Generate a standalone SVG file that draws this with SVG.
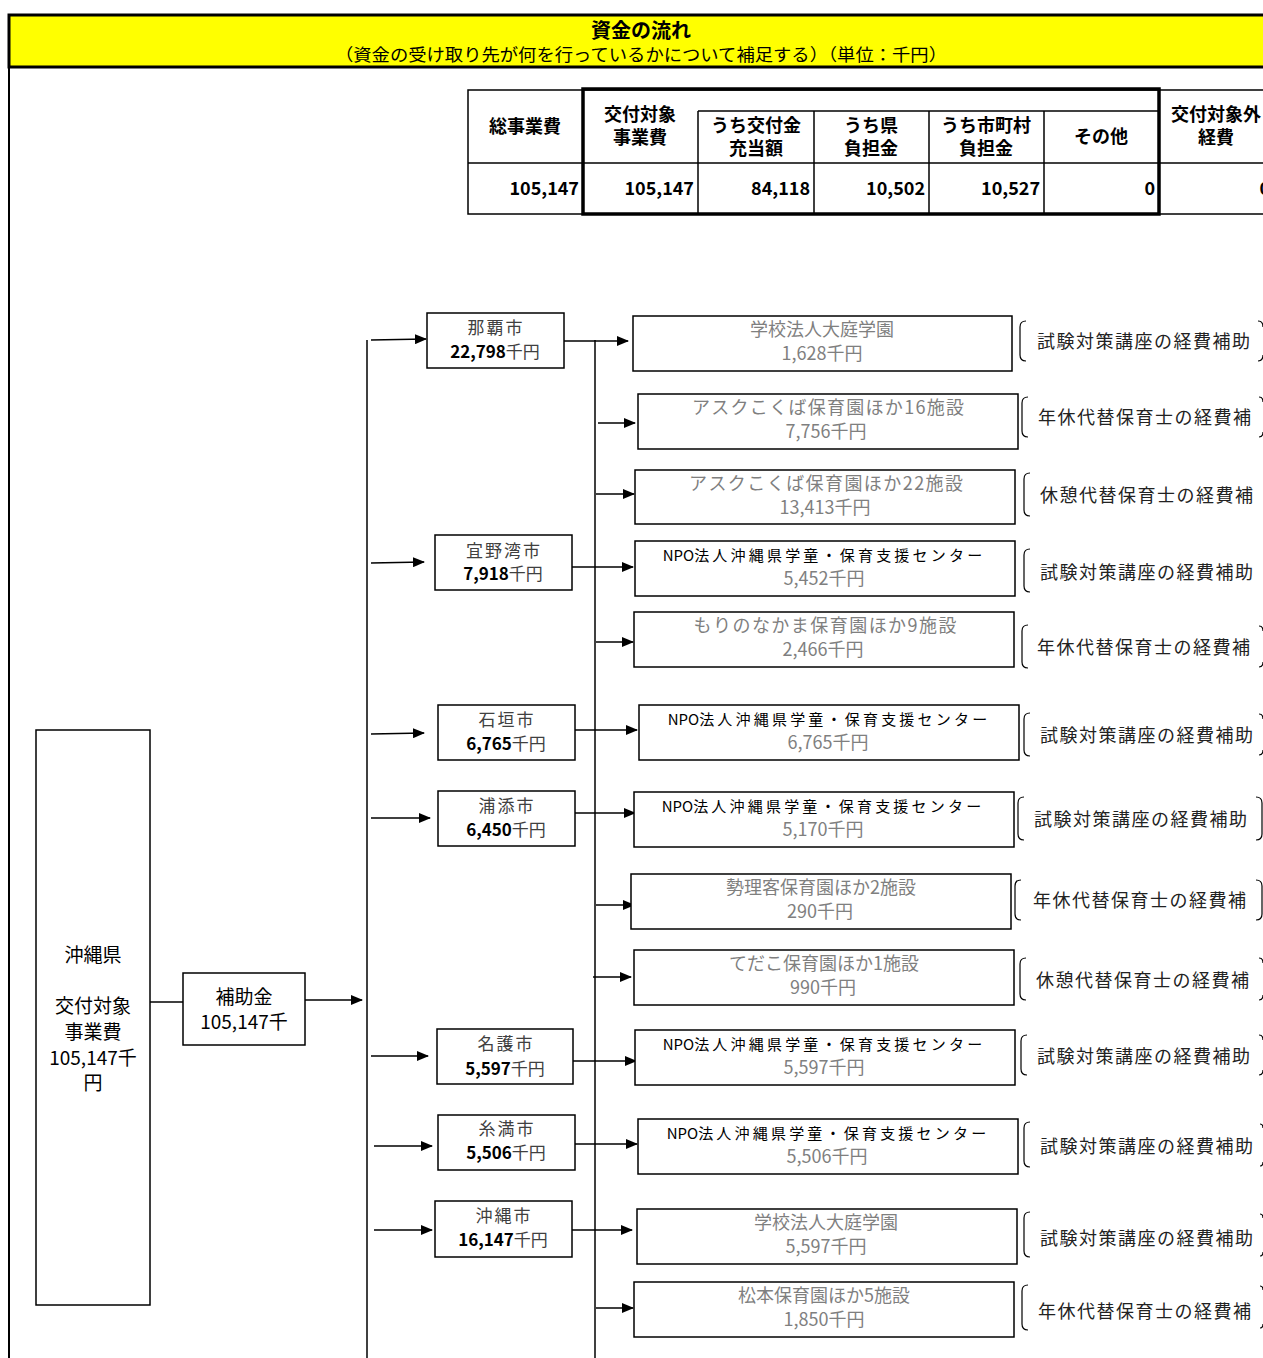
<svg xmlns="http://www.w3.org/2000/svg" width="1263" height="1358" viewBox="0 0 1263 1358">
<defs>
<marker id="ah" markerUnits="userSpaceOnUse" markerWidth="12" markerHeight="10" refX="11" refY="5" orient="auto"><path d="M0,0 L12,5 L0,10 z" fill="#000"/></marker>
<style>
text{font-family:"Noto Sans CJK JP","Liberation Sans",sans-serif;}
.box{fill:#fff;stroke:#000;stroke-width:1.5;}
.ln{stroke:#000;stroke-width:1.5;fill:none;}
.ar{stroke:#000;stroke-width:1.5;fill:none;marker-end:url(#ah);}
.th{font-size:18px;font-weight:bold;text-anchor:middle;fill:#000;}
.tv{font-size:18px;font-weight:bold;text-anchor:end;fill:#000;}
.cn{font-size:17px;text-anchor:middle;fill:#404040;letter-spacing:2px;}
.cv{font-size:17px;text-anchor:middle;fill:#000;}
.rn{font-size:18px;text-anchor:middle;fill:#7f7f7f;}
.npo{font-size:15px;text-anchor:middle;fill:#000;letter-spacing:3.2px;}
.br{font-size:18px;fill:#222;}
.bk{stroke:#000;stroke-width:1.2;fill:none;}
.lt{font-size:19px;text-anchor:middle;fill:#000;}
</style>
</defs>

<g id="header">
<rect x="9" y="15" width="1262" height="52" fill="#ffff00" stroke="#000" stroke-width="3"/>
<text x="641" y="38" font-size="20" font-weight="bold" text-anchor="middle">資金の流れ</text>
<text x="641" y="61" font-size="17" text-anchor="middle" textLength="612" lengthAdjust="spacingAndGlyphs">（資金の受け取り先が何を行っているかについて補足する）（単位：千円）</text>
<line x1="9" y1="67" x2="9" y2="1358" stroke="#000" stroke-width="2"/>
</g>

<g id="table">
<rect x="468" y="90" width="800" height="124" fill="#fff" stroke="#000" stroke-width="1.5"/>
<line class="ln" x1="468" y1="163" x2="1263" y2="163"/>
<line class="ln" x1="698" y1="111" x2="1159" y2="111"/>
<line class="ln" x1="698" y1="111" x2="698" y2="214"/>
<line class="ln" x1="814" y1="111" x2="814" y2="214"/>
<line class="ln" x1="929" y1="111" x2="929" y2="214"/>
<line class="ln" x1="1044" y1="111" x2="1044" y2="214"/>
<rect x="583" y="89" width="576" height="125" fill="none" stroke="#000" stroke-width="3.5"/>
<text class="th" x="525" y="133">総事業費</text>
<text class="th" x="640" y="121">交付対象</text>
<text class="th" x="640" y="144">事業費</text>
<text class="th" x="756" y="132">うち交付金</text>
<text class="th" x="756" y="155">充当額</text>
<text class="th" x="871" y="132">うち県</text>
<text class="th" x="871" y="155">負担金</text>
<text class="th" x="986" y="132">うち市町村</text>
<text class="th" x="986" y="155">負担金</text>
<text class="th" x="1101" y="143">その他</text>
<text class="th" x="1216" y="121">交付対象外</text>
<text class="th" x="1216" y="144">経費</text>
<text class="tv" x="579" y="195">105,147</text>
<text class="tv" x="694" y="195">105,147</text>
<text class="tv" x="810" y="195">84,118</text>
<text class="tv" x="925" y="195">10,502</text>
<text class="tv" x="1040" y="195">10,527</text>
<text class="tv" x="1155" y="195">0</text>
<text class="tv" x="1270" y="195">0</text>
</g>

<g id="connectors">
<line class="ln" x1="367" y1="340" x2="367" y2="1358"/>
<line class="ln" x1="595" y1="340" x2="595" y2="1358"/>
<line class="ln" x1="150" y1="1002" x2="183" y2="1002"/>
<line class="ar" x1="305" y1="1000" x2="362" y2="1000"/>
<line class="ar" x1="371" y1="340" x2="426" y2="339"/>
<line class="ar" x1="371" y1="563" x2="424" y2="562"/>
<line class="ar" x1="371" y1="734" x2="424" y2="733"/>
<line class="ar" x1="371" y1="818" x2="430" y2="818"/>
<line class="ar" x1="371" y1="1056" x2="428" y2="1056"/>
<line class="ar" x1="374" y1="1146" x2="432" y2="1146"/>
<line class="ar" x1="374" y1="1230" x2="432" y2="1230"/>
<line class="ar" x1="564" y1="341" x2="628" y2="341"/>
<line class="ar" x1="598" y1="423" x2="635" y2="423"/>
<line class="ar" x1="596" y1="494" x2="634" y2="494"/>
<line class="ar" x1="572" y1="567" x2="633" y2="567"/>
<line class="ar" x1="596" y1="642" x2="633" y2="642"/>
<line class="ar" x1="575" y1="730" x2="637" y2="730"/>
<line class="ar" x1="575" y1="813" x2="635" y2="813"/>
<line class="ar" x1="596" y1="905" x2="634" y2="905"/>
<line class="ar" x1="593" y1="977" x2="631" y2="977"/>
<line class="ar" x1="573" y1="1061" x2="636" y2="1061"/>
<line class="ar" x1="575" y1="1144" x2="637" y2="1144"/>
<line class="ar" x1="572" y1="1230" x2="632" y2="1230"/>
<line class="ar" x1="596" y1="1308" x2="633" y2="1308"/>
</g>

<g id="okinawa">
<rect class="box" x="36" y="730" width="114" height="575"/>
<text class="lt" x="93" y="962">沖縄県</text>
<text class="lt" x="93" y="1013">交付対象</text>
<text class="lt" x="93" y="1039">事業費</text>
<text class="lt" x="93" y="1065" font-size="18">105,147千</text>
<text class="lt" x="93" y="1090" font-size="18">円</text>
</g>

<g id="hojokin">
<rect class="box" x="183" y="973" width="122" height="72"/>
<text class="lt" x="244" y="1004">補助金</text>
<text class="lt" x="244" y="1029" font-size="18">105,147千</text>
</g>

<g id="city-naha"><rect class="box" x="427" y="313" width="137" height="55"/><text class="cn" x="496" y="334">那覇市</text><text class="cv" x="495" y="358"><tspan font-weight="bold">22,798</tspan><tspan fill="#404040">千円</tspan></text></g>
<g id="city-ginowan"><rect class="box" x="435" y="535" width="137" height="55"/><text class="cn" x="504" y="557">宜野湾市</text><text class="cv" x="503" y="580"><tspan font-weight="bold">7,918</tspan><tspan fill="#404040">千円</tspan></text></g>
<g id="city-ishigaki"><rect class="box" x="438" y="705" width="137" height="55"/><text class="cn" x="507" y="726">石垣市</text><text class="cv" x="506" y="750"><tspan font-weight="bold">6,765</tspan><tspan fill="#404040">千円</tspan></text></g>
<g id="city-urasoe"><rect class="box" x="438" y="791" width="137" height="55"/><text class="cn" x="507" y="812">浦添市</text><text class="cv" x="506" y="836"><tspan font-weight="bold">6,450</tspan><tspan fill="#404040">千円</tspan></text></g>
<g id="city-nago"><rect class="box" x="437" y="1029" width="136" height="55"/><text class="cn" x="506" y="1050">名護市</text><text class="cv" x="505" y="1075"><tspan font-weight="bold">5,597</tspan><tspan fill="#404040">千円</tspan></text></g>
<g id="city-itoman"><rect class="box" x="438" y="1115" width="137" height="55"/><text class="cn" x="507" y="1135">糸満市</text><text class="cv" x="506" y="1159"><tspan font-weight="bold">5,506</tspan><tspan fill="#404040">千円</tspan></text></g>
<g id="city-okinawa"><rect class="box" x="435" y="1201" width="137" height="56"/><text class="cn" x="504" y="1222">沖縄市</text><text class="cv" x="503" y="1246"><tspan font-weight="bold">16,147</tspan><tspan fill="#404040">千円</tspan></text></g>

<g id="r1"><rect class="box" x="633" y="316" width="379" height="55"/><text class="rn" x="822" y="336">学校法人大庭学園</text><text class="rn" x="822" y="360">1,628千円</text></g>
<g id="r2"><rect class="box" x="638" y="394" width="380" height="55"/><text class="rn" x="828" y="414" textLength="272">アスクこくば保育園ほか16施設</text><text class="rn" x="826" y="438">7,756千円</text></g>
<g id="r3"><rect class="box" x="635" y="470" width="380" height="54"/><text class="rn" x="826" y="490" textLength="274">アスクこくば保育園ほか22施設</text><text class="rn" x="825" y="514">13,413千円</text></g>
<g id="r4"><rect class="box" x="635" y="541" width="380" height="55"/><text class="npo" x="824" y="561"><tspan letter-spacing="0">NPO</tspan>法人沖縄県学童・保育支援センター</text><text class="rn" x="824" y="585">5,452千円</text></g>
<g id="r5"><rect class="box" x="634" y="612" width="380" height="55"/><text class="rn" x="825" y="632" textLength="263">もりのなかま保育園ほか9施設</text><text class="rn" x="823" y="656">2,466千円</text></g>
<g id="r6"><rect class="box" x="639" y="705" width="380" height="55"/><text class="npo" x="829" y="725"><tspan letter-spacing="0">NPO</tspan>法人沖縄県学童・保育支援センター</text><text class="rn" x="828" y="749">6,765千円</text></g>
<g id="r7"><rect class="box" x="634" y="792" width="380" height="55"/><text class="npo" x="823" y="812"><tspan letter-spacing="0">NPO</tspan>法人沖縄県学童・保育支援センター</text><text class="rn" x="823" y="836">5,170千円</text></g>
<g id="r8"><rect class="box" x="631" y="874" width="380" height="55"/><text class="rn" x="821" y="894">勢理客保育園ほか2施設</text><text class="rn" x="820" y="918">290千円</text></g>
<g id="r9"><rect class="box" x="634" y="950" width="380" height="55"/><text class="rn" x="824" y="970">てだこ保育園ほか1施設</text><text class="rn" x="823" y="994">990千円</text></g>
<g id="r10"><rect class="box" x="635" y="1030" width="380" height="55"/><text class="npo" x="824" y="1050"><tspan letter-spacing="0">NPO</tspan>法人沖縄県学童・保育支援センター</text><text class="rn" x="824" y="1074">5,597千円</text></g>
<g id="r11"><rect class="box" x="638" y="1119" width="380" height="55"/><text class="npo" x="828" y="1139"><tspan letter-spacing="0">NPO</tspan>法人沖縄県学童・保育支援センター</text><text class="rn" x="827" y="1163">5,506千円</text></g>
<g id="r12"><rect class="box" x="637" y="1209" width="380" height="55"/><text class="rn" x="826" y="1229">学校法人大庭学園</text><text class="rn" x="826" y="1253">5,597千円</text></g>
<g id="r13"><rect class="box" x="634" y="1282" width="380" height="55"/><text class="rn" x="824" y="1302">松本保育園ほか5施設</text><text class="rn" x="824" y="1326">1,850千円</text></g>

<g id="p1"><path class="bk" d="M1026,321 Q1020,321 1020,327 L1020,355 Q1020,361 1026,361"/><path class="bk" d="M1258,321 Q1263,321 1263,327 M1263,355 Q1263,361 1258,361"/><text class="br" x="1037" y="348" textLength="213">試験対策講座の経費補助</text></g>
<g id="p2"><path class="bk" d="M1028,397 Q1022,397 1022,403 L1022,431 Q1022,437 1028,437"/><path class="bk" d="M1259,397 Q1263,397 1263,402 M1263,432 Q1263,437 1259,437"/><text class="br" x="1038" y="424" textLength="213">年休代替保育士の経費補</text></g>
<g id="p3"><path class="bk" d="M1030,473 Q1024,473 1024,479 L1024,510 Q1024,516 1030,516"/><text class="br" x="1040" y="502" textLength="213">休憩代替保育士の経費補</text></g>
<g id="p4"><path class="bk" d="M1030,549 Q1024,549 1024,555 L1024,586 Q1024,592 1030,592"/><text class="br" x="1040" y="579" textLength="213">試験対策講座の経費補助</text></g>
<g id="p5"><path class="bk" d="M1028,625 Q1022,625 1022,631 L1022,662 Q1022,668 1028,668"/><path class="bk" d="M1259,626 Q1263,626 1263,631 M1263,662 Q1263,667 1259,667"/><text class="br" x="1037" y="654" textLength="213">年休代替保育士の経費補</text></g>
<g id="p6"><path class="bk" d="M1030,713 Q1024,713 1024,719 L1024,750 Q1024,756 1030,756"/><path class="bk" d="M1259,714 Q1263,714 1263,719 M1263,750 Q1263,755 1259,755"/><text class="br" x="1040" y="742" textLength="213">試験対策講座の経費補助</text></g>
<g id="p7"><path class="bk" d="M1024,797 Q1018,797 1018,803 L1018,834 Q1018,840 1024,840"/><path class="bk" d="M1256,797 Q1262,797 1262,803 L1262,834 Q1262,840 1256,840"/><text class="br" x="1034" y="826" textLength="213">試験対策講座の経費補助</text></g>
<g id="p8"><path class="bk" d="M1021,880 Q1015,880 1015,886 L1015,914 Q1015,920 1021,920"/><path class="bk" d="M1256,880 Q1262,880 1262,886 L1262,914 Q1262,920 1256,920"/><text class="br" x="1033" y="907" textLength="213">年休代替保育士の経費補</text></g>
<g id="p9"><path class="bk" d="M1026,958 Q1020,958 1020,964 L1020,994 Q1020,1000 1026,1000"/><path class="bk" d="M1259,958 Q1263,958 1263,963 M1263,995 Q1263,1000 1259,1000"/><text class="br" x="1036" y="987" textLength="213">休憩代替保育士の経費補</text></g>
<g id="p10"><path class="bk" d="M1027,1035 Q1021,1035 1021,1041 L1021,1069 Q1021,1075 1027,1075"/><path class="bk" d="M1259,1035 Q1263,1035 1263,1040 M1263,1070 Q1263,1075 1259,1075"/><text class="br" x="1037" y="1063" textLength="213">試験対策講座の経費補助</text></g>
<g id="p11"><path class="bk" d="M1030,1122 Q1024,1122 1024,1128 L1024,1161 Q1024,1167 1030,1167"/><path class="bk" d="M1260,1124 Q1263,1124 1263,1128 M1263,1162 Q1263,1166 1260,1166"/><text class="br" x="1040" y="1153" textLength="213">試験対策講座の経費補助</text></g>
<g id="p12"><path class="bk" d="M1030,1212 Q1024,1212 1024,1218 L1024,1251 Q1024,1257 1030,1257"/><path class="bk" d="M1260,1214 Q1263,1214 1263,1218 M1263,1252 Q1263,1256 1260,1256"/><text class="br" x="1040" y="1245" textLength="213">試験対策講座の経費補助</text></g>
<g id="p13"><path class="bk" d="M1028,1285 Q1022,1285 1022,1291 L1022,1324 Q1022,1330 1028,1330"/><path class="bk" d="M1260,1286 Q1263,1286 1263,1290 M1263,1324 Q1263,1328 1260,1328"/><text class="br" x="1038" y="1318" textLength="213">年休代替保育士の経費補</text></g>
</svg>
